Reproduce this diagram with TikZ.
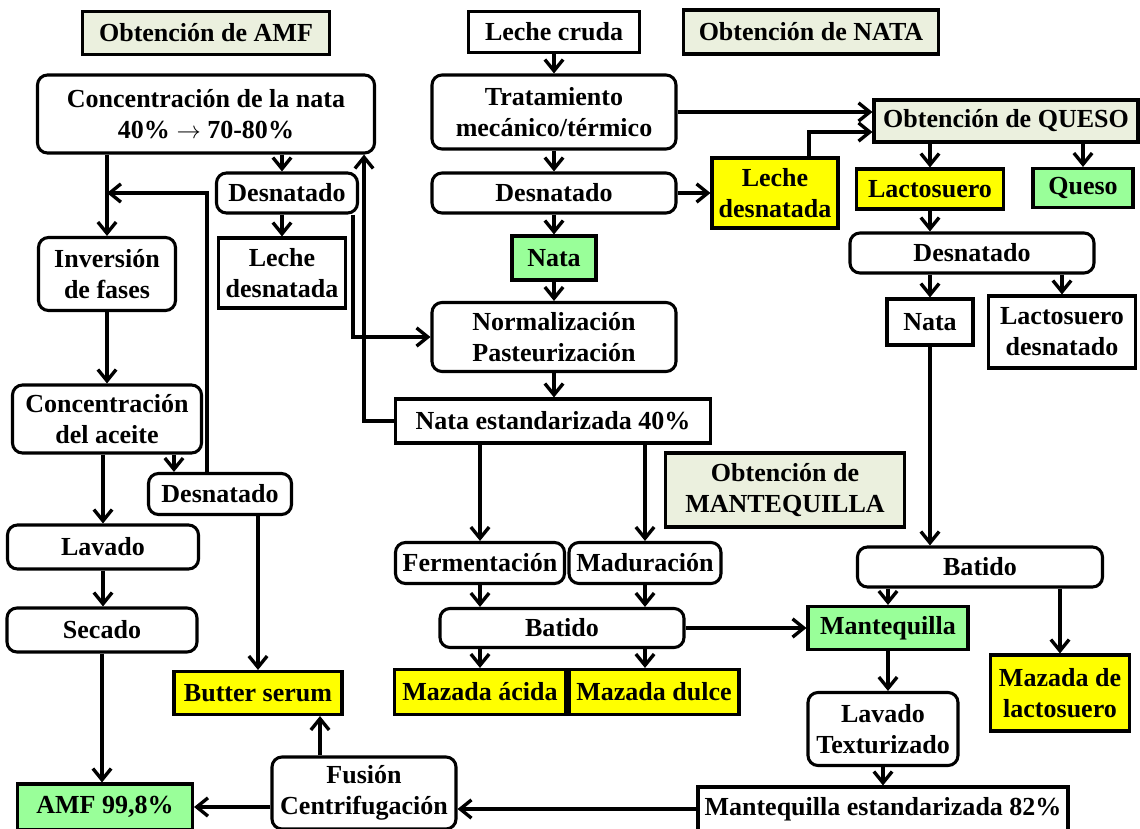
\documentclass[tikz,border=0pt]{standalone}
\usepackage{fontspec}
\setmainfont{Liberation Serif}
\usepackage{tikz}
\usetikzlibrary{arrows.meta,calc}
\definecolor{titlegray}{RGB}{235,240,222}
\definecolor{prodyellow}{RGB}{255,255,0}
\definecolor{prodgreen}{RGB}{153,255,153}
\tikzset{
  base/.style={draw,line width=2.2pt,align=center,inner sep=0pt,font=\fontsize{18.5}{22}\selectfont\bfseries},
  rbox/.style={base,rounded corners=0.25cm},
  sbox/.style={base},
  titlebox/.style={base,fill=titlegray},
  yellowbox/.style={base,fill=prodyellow},
  greenbox/.style={base,fill=prodgreen},
  bw/.style={minimum width=#1*0.025cm},
  bh/.style={minimum height=#1*0.025cm},
  arr/.style={line width=2.4pt,-{Straight Barb[length=8pt,width=13pt]}},
}
\begin{document}
\begin{tikzpicture}[x=0.025cm,y=-0.025cm]
\useasboundingbox (0,0) rectangle (1140,829);
% AMF
\node[titlebox,bw=247,bh=43] (tAMF) at (206,33) {Obtención de AMF};
\node[rbox,bw=337,bh=78] (cNata) at (206,114) {Concentración de la nata\\40\% $\rightarrow$ 70-80\%};
\node[rbox,bw=141,bh=40] (desnA) at (287,193) {Desnatado};
\node[sbox,bw=127,bh=70] (lecheA) at (282,273) {Leche\\desnatada};
\node[rbox,bw=137,bh=73] (inv) at (107,274) {Inversión\\de fases};
\node[rbox,bw=189,bh=68] (concAc) at (107,419) {Concentración\\del aceite};
\node[rbox,bw=143,bh=41] (desnB) at (220,494) {Desnatado};
\node[rbox,bw=191,bh=44] (lavado) at (103,547) {Lavado};
\node[rbox,bw=190,bh=44] (secado) at (102,630) {Secado};
\node[yellowbox,bw=168,bh=43] (butter) at (258,693) {Butter serum};
\node[greenbox,bw=175,bh=46] (amf) at (105,807) {AMF 99,8\%};
\node[rbox,bw=184,bh=72] (fusion) at (364,793) {Fusión\\Centrifugación};
% NATA
\node[sbox,bw=171,bh=41] (leche) at (554,32) {Leche cruda};
\node[titlebox,bw=255,bh=44] (tNata) at (811,32) {Obtención de NATA};
\node[rbox,bw=244,bh=74] (trat) at (554,112) {Tratamiento\\mecánico/térmico};
\node[rbox,bw=244,bh=40] (desnC) at (554,193) {Desnatado};
\node[yellowbox,bw=126,bh=70] (lecheB) at (775,193) {Leche\\desnatada};
\node[greenbox,bw=84,bh=44] (nata) at (554,258) {Nata};
\node[rbox,bw=244,bh=69] (norm) at (554,337) {Normalización\\Pasteurización};
\node[sbox,bw=315,bh=44] (nataEst) at (553,421) {Nata estandarizada 40\%};
% MANTEQUILLA
\node[titlebox,bw=239,bh=74] (tMant) at (785,490) {Obtención de\\MANTEQUILLA};
\node[rbox,bw=169,bh=41] (ferm) at (480,563) {Fermentación};
\node[rbox,bw=152,bh=41] (mad) at (645,563) {Maduración};
\node[rbox,bw=244,bh=39] (batA) at (562,628) {Batido};
\node[yellowbox,bw=171,bh=45] (mazAc) at (480,692) {Mazada ácida};
\node[yellowbox,bw=170,bh=45] (mazDu) at (654,692) {Mazada dulce};
\node[greenbox,bw=160,bh=43] (mant) at (888,628) {Mantequilla};
\node[rbox,bw=150,bh=73] (lavTex) at (883,729) {Lavado\\Texturizado};
\node[sbox,bw=370,bh=44] (mantEst) at (883,809) {Mantequilla estandarizada 82\%};
% QUESO
\node[titlebox,bw=264,bh=42] (tQueso) at (1006,121) {Obtención de QUESO};
\node[yellowbox,bw=147,bh=40] (lacto) at (930,189) {Lactosuero};
\node[greenbox,bw=100,bh=39] (queso) at (1083,188) {Queso};
\node[rbox,bw=244,bh=40] (desnD) at (972,253) {Desnatado};
\node[sbox,bw=86,bh=46] (nataB) at (930,322) {Nata};
\node[sbox,bw=147,bh=72] (lactoD) at (1062,332) {Lactosuero\\desnatado};
\node[rbox,bw=245,bh=40] (batB) at (980,567) {Batido};
\node[yellowbox,bw=139,bh=76] (mazLac) at (1060,693) {Mazada de\\lactosuero};
% connectors
\coordinate (upc) at ($(cNata.south east)+(-12,0)$);
\coordinate (dnc) at ($(desnA.south east)+(-6,0)$);
\coordinate (dbc) at ($(desnB.north)+(-13,0)$);
\coordinate (cdc) at ($(desnB.north west)+(27,0)$);
\coordinate (fbc) at ($(fusion.north)+(-44,0)$);
\coordinate (lqc) at ($(lecheB.north)+(34,0)$);
\coordinate (qc) at ($(tQueso.west)+(0,11)$);
\draw[arr] (leche) -- (trat);
\draw[arr] (trat) -- (desnC);
\draw[arr] (desnC) -- (nata);
\draw[arr] (nata) -- (norm);
\draw[arr] (norm) -- (norm |- nataEst.north);
\draw[arr] (trat.east) -- (trat.east -| tQueso.west);
\draw[arr] (desnC) -- (lecheB);
\draw[arr] (lqc) |- (qc);
\draw[arr] (tQueso.south -| lacto) -- (lacto);
\draw[arr] (tQueso.south -| queso) -- (queso);
\draw[arr] (lacto) -- (lacto |- desnD.north);
\draw[arr] (desnD.south -| nataB) -- (nataB);
\draw[arr] (desnD.south -| lactoD) -- (lactoD);
\draw[arr] (nataB) -- (nataB |- batB.north);
\draw[arr] (batB.south -| mant) -- (mant);
\draw[arr] (batB.south -| mazLac) -- (mazLac);
\draw[arr] (batA) -- (batA -| mant.west);
\draw[arr] (mant) -- (mant |- lavTex.north);
\draw[arr] (lavTex) -- (lavTex |- mantEst.north);
\draw[arr] (mantEst.west) -- (mantEst.west -| fusion.east);
\draw[arr] (amf -| fusion.west) -- (amf.east);
\draw[arr] (fbc) -- (fbc |- butter.south);
\draw[arr] (nataEst.south -| ferm) -- (ferm);
\draw[arr] (nataEst.south -| mad) -- (mad);
\draw[arr] (ferm) -- (ferm |- batA.north);
\draw[arr] (mad) -- (mad |- batA.north);
\draw[arr] (batA.south -| mazAc) -- (mazAc);
\draw[arr] (batA.south -| mad) -- (mad |- mazDu.north);
\draw[arr] (nataEst.west) -| (upc);
\draw[arr] (dnc) |- (norm.west);
\draw[arr] (cNata.south -| lecheA) -- (desnA.north -| lecheA);
\draw[arr] (desnA.south -| lecheA) -- (lecheA);
\draw[arr] (cNata.south -| inv) -- (inv);
\draw[arr] (dbc) |- (inv |- desnA);
\draw[arr] (inv) -- (inv |- concAc.north);
\draw[arr] (concAc.south -| lavado) -- (lavado);
\draw[arr] (concAc.south -| cdc) -- (cdc);
\draw[arr] (lavado) -- (lavado |- secado.north);
\draw[arr] (secado) -- (secado |- amf.north);
\draw[arr] (desnB.south -| butter) -- (butter);
\end{tikzpicture}
\end{document}
